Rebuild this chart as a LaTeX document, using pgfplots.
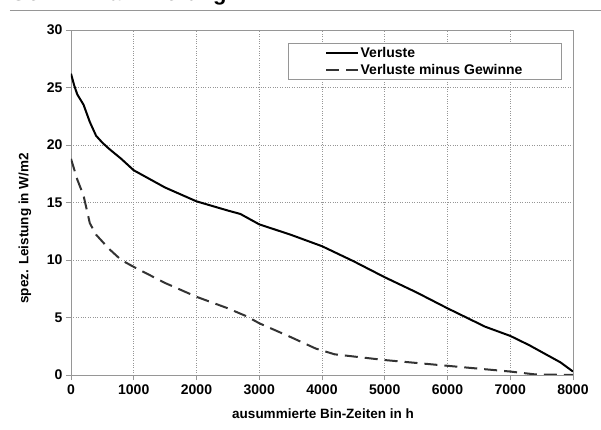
\documentclass[border=0pt]{standalone}
\usepackage{fontspec}
\setmainfont{Liberation Sans}
\usepackage{pgfplots}
\pgfplotsset{compat=1.18}
\definecolor{axgray}{RGB}{150,150,150}
\begin{document}
\begin{tikzpicture}
\useasboundingbox (-71pt,-55pt) rectangle (530pt,375pt);
\node[anchor=base west, inner sep=0pt, font=\bfseries\fontsize{22}{24}\selectfont] at (-61pt,374pt) {Gewinnmaximierung};
\draw[axgray, line width=1pt] (-61pt,364.5pt) -- (530pt,364.5pt);
\begin{axis}[
  scale only axis, width=502pt, height=345pt,
  xmin=0, xmax=8000, ymin=0, ymax=30,
  xtick={0,1000,...,8000}, ytick={0,5,...,30},
  scaled x ticks=false,
  xticklabel style={/pgf/number format/1000 sep={}},
  /pgf/number format/assume math mode=true,
  tick label style={font=\bfseries\fontsize{14}{16}\selectfont},
  label style={font=\bfseries\fontsize{13.5}{15}\selectfont},
  axis line style={axgray, line width=0.9pt},
  tick style={axgray, line width=0.8pt},
  tick align=outside, major tick length=5pt,
  xtick pos=bottom, ytick pos=left,
  xticklabel style={yshift=-1pt},
  grid=major, grid style={axgray, dotted, line width=0.8pt},
  xlabel={ausummierte Bin-Zeiten in h},
  ylabel={spez. Leistung in W/m2},
  xlabel style={at={(axis description cs:0.502,-0.113)}, anchor=center},
  ylabel style={at={(axis description cs:-0.092,0.425)}, anchor=center},
  legend style={at={(rel axis cs:0.978,0.962)}, anchor=north east, draw=axgray, line width=0.9pt,
    font=\bfseries\fontsize{14}{16}\selectfont, inner xsep=37pt, inner ysep=2pt, row sep=1pt,
    legend cell align=left},
  legend image code/.code={\draw[#1, line width=2pt] (0cm,0cm) -- (1.1cm,0cm);},
]
\addplot[black, line width=2pt] coordinates {
(0,26.2) (50,25.2) (100,24.4) (200,23.5) (300,22.0) (400,20.8) (500,20.2) (600,19.7)
(800,18.8) (1000,17.8) (1500,16.3) (2000,15.1) (2500,14.3) (2700,14.0) (3000,13.1)
(3500,12.2) (4000,11.2) (4500,9.9) (5000,8.5) (5500,7.2) (6000,5.8) (6300,5.0)
(6600,4.2) (7000,3.4) (7300,2.6) (7600,1.7) (7800,1.1) (8000,0.3)};
\addlegendentry{Verluste}
\addplot[black!80, line width=2pt, dash pattern=on 13pt off 7pt] coordinates {
(0,18.8) (100,17.0) (200,15.6) (300,13.2) (400,12.2) (600,11.0) (800,10.0) (1000,9.4)
(1500,8.0) (2000,6.8) (2500,5.8) (2800,5.1) (3000,4.5) (3500,3.3) (3900,2.3) (4200,1.8)
(5000,1.3) (6000,0.8) (7000,0.3) (7400,0.05) (8000,0)};
\addlegendentry{Verluste minus Gewinne}
\end{axis}
\end{tikzpicture}
\end{document}
